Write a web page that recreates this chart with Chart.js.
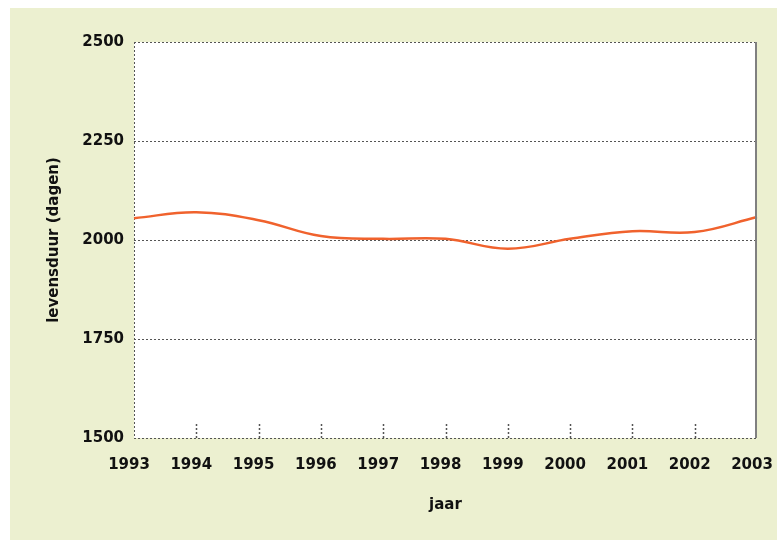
<!DOCTYPE html>
<html><head><meta charset="utf-8">
<script src="https://cdn.jsdelivr.net/npm/chart.js@4"></script>
<style>html,body{margin:0;padding:0;background:#fff}#wrap{width:777px;height:540px}</style>
</head><body><div id="wrap"><canvas id="c" width="777" height="540"></canvas></div>
<script>
const years = ['1993','1994','1995','1996','1997','1998','1999','2000','2001','2002','2003'];
const lifespanDays = [2055, 2070, 2050, 2010, 2003, 2003, 1978, 2003, 2022, 2020, 2058];
const yMin = 1500, yMax = 2500, yStep = 250;
const yTitle = 'levensduur (dagen)';
const xTitle = 'jaar';

const FONT = {family: '"DejaVu Sans", sans-serif', size: 15, weight: 'bold'};
const GRID = '#555555';

const decor = {
  id: 'decor',
  beforeDraw(chart) {
    const {ctx, chartArea: a} = chart;
    ctx.save();
    ctx.fillStyle = '#ffffff';
    ctx.fillRect(0, 0, chart.width, chart.height);
    ctx.fillStyle = '#ecf0d0';
    ctx.fillRect(10, 8, chart.width - 10, chart.height - 8);
    ctx.fillStyle = '#ffffff';
    ctx.fillRect(a.left, a.top, a.right - a.left, a.bottom - a.top);
    ctx.restore();
  },
  afterDraw(chart) {
    const {ctx, chartArea: a} = chart;
    const xs = chart.scales.x;
    ctx.save();
    ctx.strokeStyle = GRID;
    ctx.lineWidth = 1.5;
    ctx.setLineDash([2, 2]);
    xs.ticks.forEach((t, i) => {
      if (i === 0 || i === xs.ticks.length - 1) return;
      const px = Math.round(xs.getPixelForTick(i)) + 0.5;
      ctx.beginPath();
      ctx.moveTo(px, a.bottom);
      ctx.lineTo(px, a.bottom - 16);
      ctx.stroke();
    });
    ctx.setLineDash([]);
    ctx.strokeStyle = '#808080';
    ctx.lineWidth = 2;
    ctx.beginPath();
    ctx.moveTo(a.right - 1, a.top);
    ctx.lineTo(a.right - 1, a.bottom);
    ctx.stroke();
    ctx.restore();
  }
};

new Chart(document.getElementById('c'), {
  type: 'line',
  data: {
    labels: years,
    datasets: [{
      data: lifespanDays,
      borderColor: '#f0622d',
      borderWidth: 2.5,
      pointRadius: 0,
      tension: 0.4,
      fill: false
    }]
  },
  options: {
    responsive: false,
    animation: false,
    layout: {padding: {left: 10, top: 42, right: 20, bottom: 0}},
    plugins: {legend: {display: false}, tooltip: {enabled: false}},
    scales: {
      x: {
        offset: false,
        grid: {
          drawTicks: false,
          color: (c) => c.index === 0 ? GRID : 'rgba(0,0,0,0)',
          lineWidth: 1
        },
        border: {display: false, dash: [2, 2]},
        ticks: {font: FONT, color: '#111', padding: 18, labelOffset: -5, maxRotation: 0, autoSkip: false},
        title: {display: true, text: xTitle, font: FONT, color: '#111', padding: {top: 0, bottom: 26}},
        afterFit(s) { s.height = 102; s.paddingLeft = 0; s.paddingRight = 0; }
      },
      y: {
        min: yMin, max: yMax,
        grid: {drawTicks: false, color: GRID, lineWidth: 1},
        border: {display: false, dash: [2, 2]},
        ticks: {stepSize: yStep, font: FONT, color: '#111', padding: 10, callback: (v) => String(v)},
        title: {display: true, text: yTitle, font: FONT, color: '#111', padding: {top: 35, bottom: 0}},
        afterFit(s) { s.width = 124; s.paddingTop = 0; s.paddingBottom = 0; }
      }
    }
  },
  plugins: [decor]
});
</script>
</body></html>
